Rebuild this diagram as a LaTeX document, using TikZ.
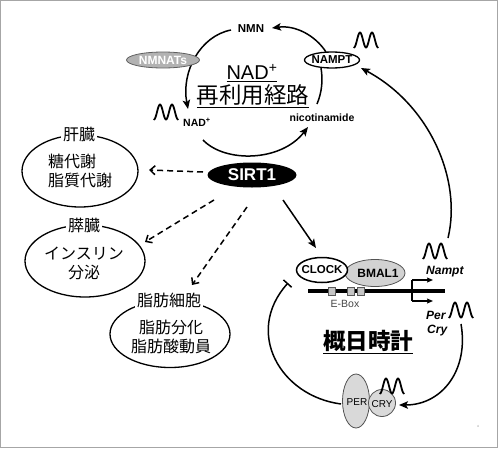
\documentclass[tikz,border=0pt]{standalone}
\usepackage{fontspec}
\setmainfont{Liberation Sans}
\newfontfamily\jp{Noto Sans CJK JP}
\usetikzlibrary{arrows.meta,shapes.geometric}
\tikzset{
  wavy/.pic={\draw[line width=1.8pt,line join=round,line cap=round] plot[domain=-90:630,samples=73,smooth] ({\x/720*24-12},{-7.5*sin(\x)});}
}
\begin{document}
\begin{tikzpicture}[x=1pt,y=-1pt,
  lw/.style={line width=1.5pt},
  arr/.style={lw,-{Stealth[length=9pt,width=7.5pt,inset=2pt]}},
  sarr/.style={line width=1.3pt,-{Stealth[length=6pt,width=5pt,inset=1pt]}},
  darr/.style={lw,dash pattern=on 6pt off 4pt,-{Straight Barb[length=5pt,width=9pt]}},
  organ/.style={ellipse,draw,line width=1.3pt,inner sep=0},
  olabel/.style={fill=white,inner sep=2pt,font=\jp\fontsize{16}{19}\selectfont},
  otext/.style={font=\jp\fontsize{16}{19}\selectfont,inner sep=0},
  small/.style={font=\bfseries\fontsize{11.5}{13}\selectfont,inner sep=1pt},
  gene/.style={anchor=west,font=\bfseries\itshape\fontsize{12}{14}\selectfont,inner sep=0},
  ebox/.style={draw=gray!70!black,fill=gray!45,minimum width=7pt,minimum height=8pt,inner sep=0,line width=0.6pt},
  prot/.style={draw=gray!65!black,fill=gray!30,line width=0.8pt,inner sep=0}
]
\useasboundingbox (0,0) rectangle (500,450);
\draw[gray!70,line width=1.3pt] (0.65,0.65) rectangle (497.3,447.3);

% ---- coordinates for connector ends ----
\coordinate (aS) at (326,52);
\coordinate (aE) at (272,28);
\coordinate (bS) at (231,30);
\coordinate (bE) at (188,109);
\coordinate (cS) at (203,140);
\coordinate (cE) at (308,127);
\coordinate (dS) at (317,104);
\coordinate (dE) at (321,68);
\coordinate (lS) at (448,238);
\coordinate (lE) at (361,68);
\coordinate (s1) at (283,200);
\coordinate (c1) at (316,248);
\coordinate (dl1) at (203,172);
\coordinate (dl2) at (149,170);
\coordinate (dp1) at (214,200);
\coordinate (dp2) at (145,242);
\coordinate (da1) at (247,207);
\coordinate (da2) at (192,285);
\coordinate (pL) at (341,404);
\coordinate (tB) at (288,283);
\coordinate (rS) at (461,324);
\coordinate (rE) at (399,405);
\coordinate (tsTop) at (412,280);
\coordinate (tsBot) at (412,301);
\coordinate (tsTopE) at (433,280);
\coordinate (tsBotE) at (433,301);
\coordinate (dnaL) at (308,291);
\coordinate (dnaR) at (445,291);

% ---- NAD+ salvage cycle arcs ----
\draw[arr] (aS) .. controls (315,35) and (295,25) .. (aE);
\draw[arr] (bS) .. controls (200,36) and (181,72) .. (bE);
\draw[arr] (cS) .. controls (225,163) and (281,162) .. (cE);
\draw[lw] (dS) .. controls (322,92) and (323,80) .. (dE);
\draw[arr] (lS) .. controls (462,180) and (430,105) .. (lE);

% ---- nodes of the cycle ----
\node[small] (nmn) at (251,29) {NMN};
\node[ellipse,fill=gray!60,draw=gray!75!black,line width=0.8pt,minimum width=73pt,minimum height=16pt,inner sep=0] (nmnat) at (163,60) {};
\node[text=white,font=\bfseries\fontsize{12}{14}\selectfont,inner sep=0] at (nmnat) {NMNATs};
\node[ellipse,fill=white,draw,line width=1.3pt,minimum width=55pt,minimum height=16pt,inner sep=0] (nampt) at (332,60) {};
\node[font=\bfseries\fontsize{11.5}{13}\selectfont,inner sep=0] at (nampt) {NAMPT};
\node[font=\fontsize{20}{24}\selectfont,inner sep=0] (nadbig) at (252,73) {\underline{NAD\textsuperscript{+}}};
\node[font=\jp\fontsize{22.5}{26}\selectfont,inner sep=0] (salv) at (253,96) {\underline{再利用経路}};
\node[small,font=\bfseries\fontsize{10.5}{12}\selectfont] (nadsm) at (197,122) {NAD\textsuperscript{+}};
\node[small,font=\bfseries\fontsize{10.5}{12}\selectfont] (nic) at (322,118) {nicotinamide};

% ---- SIRT1 ----
\node[ellipse,fill=black,minimum width=89pt,minimum height=25pt,inner sep=0] (sirt) at (252,175) {};
\node[text=white,font=\bfseries\fontsize{17}{20}\selectfont,inner sep=0] at (sirt) {SIRT1};

% ---- organs ----
\node[organ,minimum width=116pt,minimum height=72pt] (liver) at (80,171) {};
\node[olabel] at (79,134) {肝臓};
\node[otext,align=left] at (80,171) {糖代謝\\脂質代謝};

\node[organ,minimum width=120pt,minimum height=72pt] (panc) at (85,261) {};
\node[olabel] at (84,225) {膵臓};
\node[otext,align=center] at (84,263) {インスリン\\分泌};

\node[organ,minimum width=120pt,minimum height=67pt] (adip) at (170,334) {};
\node[olabel] at (169,300) {脂肪細胞};
\node[otext,align=center] at (171,337) {脂肪分化\\脂肪酸動員};

\draw[darr] (dl1) -- (dl2);
\draw[darr] (dp1) -- (dp2);
\draw[darr] (da1) -- (da2);
\draw[arr] (s1) -- (c1);

% ---- clock genes ----
\node[ellipse,prot,fill=gray!35,minimum width=60pt,minimum height=27pt] (bmal) at (375,273) {};
\node[font=\bfseries\fontsize{12}{14}\selectfont,inner sep=0] at (378,273) {BMAL1};
\node[ellipse,draw,fill=white,line width=1.5pt,minimum width=51pt,minimum height=25pt,inner sep=0] (clock) at (322,270) {};
\node[font=\bfseries\fontsize{11.5}{13}\selectfont,inner sep=0] at (clock) {CLOCK};

\draw[line width=4pt] (dnaL) -- (dnaR);
\node[ebox] (e1) at (331.5,291) {};
\node[ebox] (e2) at (351,291) {};
\node[ebox] (e3) at (361,291) {};
\node[text=gray!55!black,font=\fontsize{10.5}{12}\selectfont,inner sep=0] (eboxt) at (345,304) {E-Box};

\draw[line width=1.3pt] (tsTop) -- (tsBot);
\draw[sarr] (tsTop) -- (tsTopE);
\draw[sarr] (tsBot) -- (tsBotE);

\node[gene] (nampt2) at (426,272) {Nampt};
\node[gene] (per) at (426,315) {Per};
\node[gene] (cry) at (427,331) {Cry};

\node[font=\jp\bfseries\fontsize{22.5}{26}\selectfont,inner sep=0] (circ) at (368,342) {\underline{概日時計}};

% ---- PER / CRY ----
\draw[lw,-{Bar[width=11pt]}] (pL) .. controls (280,396) and (244,332) .. (tB);
\draw[arr] (rS) .. controls (469,370) and (442,405) .. (rE);
\node[ellipse,prot,minimum width=27pt,minimum height=54pt] (perp) at (356,401) {};
\node[circle,prot,minimum size=27pt] (cryp) at (382,403) {};
\node[font=\fontsize{10}{12}\selectfont,inner sep=0] at (357,402) {PER};
\node[font=\fontsize{10}{12}\selectfont,inner sep=0] at (382,404) {CRY};

% ---- rhythm waves ----
\pic at (169,112) {wavy};
\pic at (369,40) {wavy};
\pic at (438,251) {wavy};
\pic at (464,310) {wavy};
\pic at (395,386) {wavy};

\node[text=gray,font=\fontsize{3}{3}\selectfont,inner sep=0] (pg) at (478,426) {4};
\end{tikzpicture}
\end{document}
